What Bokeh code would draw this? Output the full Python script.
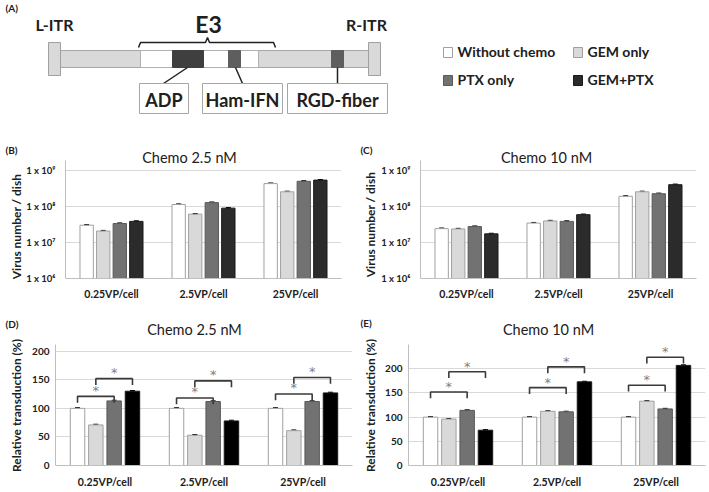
import math
from bokeh.plotting import figure
from bokeh.models import (Range1d, FixedTicker, ColumnDataSource, Whisker,
                          TeeHead, CustomJSTickFormatter)
from bokeh.layouts import column, row
from bokeh.embed import file_html
from bokeh.resources import INLINE
from bokeh.core.properties import value

# ---------------- data ----------------
categories = ["0.25VP/cell", "2.5VP/cell", "25VP/cell"]
series_names = ["Without chemo", "GEM only", "PTX only", "GEM+PTX"]

# (B) virus number / dish, chemo 2.5 nM
b_without = [3.05e7, 1.15e8, 4.4e8]
b_gem = [2.1e7, 6.2e7, 2.6e8]
b_ptx = [3.4e7, 1.3e8, 5.1e8]
b_both = [3.9e7, 9.1e7, 5.5e8]

# (C) virus number / dish, chemo 10 nM
c_without = [2.45e7, 3.5e7, 1.95e8]
c_gem = [2.4e7, 4.0e7, 2.6e8]
c_ptx = [2.8e7, 3.9e7, 2.3e8]
c_both = [1.75e7, 6.0e7, 4.1e8]

# relative error (fraction) used for the small error bars on B / C
bc_rel_err = 0.04

# (D) relative transduction (%), chemo 2.5 nM
d_without = [100, 100, 100]
d_gem = [71, 53, 61]
d_ptx = [113, 112, 112]
d_both = [130, 78, 127]

# (E) relative transduction (%), chemo 10 nM
e_without = [100, 100, 100]
e_gem = [96, 112, 133]
e_ptx = [114, 111, 117]
e_both = [73, 173, 207]

de_err = 1.2

# significance brackets: group, from-series, to-series, bracket height
d_br_group = [0, 0, 1, 1, 2, 2]
d_br_from = [0, 1, 0, 1, 0, 1]
d_br_to = [2, 3, 2, 3, 2, 3]
d_br_y = [121, 152, 118, 148, 125, 154]

e_br_group = [0, 0, 1, 1, 2, 2]
e_br_from = [0, 1, 0, 1, 0, 1]
e_br_to = [2, 3, 2, 3, 2, 3]
e_br_y = [152, 194, 161, 204, 166, 224]

log_ticks = [1e6, 1e7, 1e8, 1e9]
pct_ticks = [0, 50, 100, 150, 200]

# panel titles / labels
panel_tags = ["(B)", "(C)", "(D)", "(E)"]
panel_titles = ["Chemo 2.5 nM", "Chemo 10 nM", "Chemo 2.5 nM", "Chemo 10 nM"]
y_titles = ["Virus number / dish", "Virus number / dish",
            "Relative transduction (%)", "Relative transduction (%)"]

# schematic (panel A) geometry, in diagram units
itr_x = [[48, 60], [368, 380]]
itr_names = ["L-ITR", "R-ITR"]
itr_name_x = [54, 366]
backbone_x = [60, 368]
e3_x = [140, 258]
insert_names = ["ADP", "Ham-IFN", "RGD-fiber"]
insert_left = [172, 228, 331]
insert_right = [203, 240, 343]
insert_colors = ["#3f3f3f", "#5e5e5e", "#5e5e5e"]
conn_x0 = [187, 235, 337]
conn_x1 = [163, 242, 337]
box_left = [139, 202, 287]
box_right = [188, 282, 387]
brace_x = [138, 140, 205, 207, 209, 273, 275]
brace_y = [47, 42, 42, 37, 42, 42, 47]

# ---------------- style ----------------
FONT = "Lato"
TXT = "#202020"
fills_bc = ["#ffffff", "#d9d9d9", "#727272", "#2b2b2b"]
fills_de = ["#ffffff", "#d9d9d9", "#727272", "#000000"]
lines = ["#a0a0a0", "#a0a0a0", "#5a5a5a", "#1a1a1a"]


def style_axes(p, yticks):
    p.outline_line_color = None
    p.xgrid.visible = False
    p.ygrid.grid_line_color = "#d9d9d9"
    p.ygrid.grid_line_width = 1
    p.ygrid.ticker = FixedTicker(ticks=yticks)
    for ax in (p.xaxis[0], p.yaxis[0]):
        ax.axis_line_color = "#bfbfbf"
        ax.major_tick_line_color = None
        ax.minor_tick_line_color = None
        ax.major_tick_out = 0
        ax.minor_tick_out = 0
        ax.major_tick_in = 0
        ax.minor_tick_in = 0
        ax.major_label_text_font = FONT
        ax.major_label_text_font_style = "bold"
        ax.major_label_text_color = TXT
    p.xaxis.ticker = FixedTicker(ticks=list(range(len(categories))))
    p.xaxis.major_label_overrides = {i: c for i, c in enumerate(categories)}
    p.xaxis.major_label_text_font_size = "10.5px"
    p.yaxis.ticker = FixedTicker(ticks=yticks)


def draw_bars(p, vals, fills, step, width, base, errs_lo, errs_hi):
    for k, v in enumerate(vals):
        xs = [g + (k - 1.5) * step for g in range(len(categories))]
        p.vbar(x=xs, top=v, bottom=base, width=width, fill_color=fills[k],
               line_color=lines[k], line_width=1)
        src = ColumnDataSource(dict(x=xs, lo=errs_lo[k], hi=errs_hi[k]))
        p.add_layout(Whisker(source=src, base="x", lower="lo", upper="hi",
                             line_color="black", line_width=1,
                             upper_head=TeeHead(size=5, line_color="black", line_width=1),
                             lower_head=TeeHead(size=5, line_color="black", line_width=1)))


def log_panel(vals, fig_w, mb_left, mb_right):
    fh = 118
    decade = 35.9
    p = figure(width=fig_w, height=160, y_axis_type="log",
               x_range=Range1d(-0.5, 2.5),
               y_range=Range1d(1e6, 10 ** (6 + fh / decade)),
               output_backend="svg", toolbar_location=None,
               min_border_left=mb_left, min_border_right=mb_right,
               min_border_top=15, min_border_bottom=27)
    style_axes(p, log_ticks)
    p.yaxis.formatter = CustomJSTickFormatter(code="""
        const sup = {6: '\u2076', 7: '\u2077', 8: '\u2078', 9: '\u2079'};
        const e = Math.round(Math.log10(tick));
        return '1 x 10' + sup[e];
    """)
    p.yaxis.major_label_text_font_size = "9.5px"
    p.yaxis.major_label_standoff = 10
    p.xaxis.major_label_standoff = 9
    lo = [[x * (1 - bc_rel_err) for x in v] for v in vals]
    hi = [[x * (1 + bc_rel_err) for x in v] for v in vals]
    draw_bars(p, vals, fills_bc, 0.18, 0.145, 1e6, lo, hi)
    return p


def pct_panel(vals, brg, brf, brt, bry, leg, fig_w, mb_left, mb_right, mb_top):
    scale = 0.5715
    fh = 187 - mb_top - 27
    p = figure(width=fig_w, height=187,
               x_range=Range1d(-0.5, 2.5), y_range=Range1d(0, fh / scale),
               output_backend="svg", toolbar_location=None,
               min_border_left=mb_left, min_border_right=mb_right,
               min_border_top=mb_top, min_border_bottom=27)
    style_axes(p, pct_ticks)
    p.yaxis.major_label_text_font_size = "10px"
    p.yaxis.major_label_standoff = 6
    p.xaxis.major_label_standoff = 10
    step = 0.185
    lo = [[x - de_err for x in v] for v in vals]
    hi = [[x + de_err for x in v] for v in vals]
    draw_bars(p, vals, fills_de, step, 0.146, 0, lo, hi)
    # significance brackets
    xa = [g + (a - 1.5) * step for g, a in zip(brg, brf)]
    xb = [g + (b - 1.5) * step for g, b in zip(brg, brt)]
    mx = [[a, a, b, b] for a, b in zip(xa, xb)]
    my = [[y - leg, y, y, y - leg] for y in bry]
    p.multi_line(xs=mx, ys=my, line_color="#3a3a3a", line_width=1.6)
    p.text(x=[(a + b) / 2 for a, b in zip(xa, xb)], y=[y + 11 for y in bry],
           text=["*"] * len(bry), text_font=value("DejaVu Sans"),
           text_font_size=value("13px"),
           text_color="#7f7f7f", text_align="center", text_baseline="middle")
    return p


# ---------------- panel A + legend ----------------
pa = figure(width=709, height=145, x_range=Range1d(0, 709), y_range=Range1d(145, 0),
            output_backend="svg", toolbar_location=None, min_border=0,
            x_axis_location=None, y_axis_location=None)
pa.grid.visible = False
pa.outline_line_color = None

pa.quad(left=[backbone_x[0]], right=[backbone_x[1]], top=[50], bottom=[67],
        fill_color="#d9d9d9", line_color="#a6a6a6")
pa.quad(left=[e3_x[0]], right=[e3_x[1]], top=[50], bottom=[67],
        fill_color="#ffffff", line_color="#b0b0b0")
pa.quad(left=insert_left, right=insert_right, top=[50] * 3, bottom=[67] * 3,
        fill_color=insert_colors, line_color=insert_colors)
pa.quad(left=[a for a, b in itr_x], right=[b for a, b in itr_x], top=[42, 42],
        bottom=[75, 75], fill_color="#d9d9d9", line_color="#a0a0a0")
pa.segment(x0=conn_x0, y0=[67] * 3, x1=conn_x1, y1=[83] * 3, line_color="#202020",
           line_width=1.5)
pa.quad(left=box_left, right=box_right, top=[83] * 3, bottom=[113] * 3,
        fill_color="#ffffff", line_color="#a6a6a6")
pa.line(x=brace_x, y=brace_y, line_color="#202020", line_width=1.5)
pa.text(x=[(a + b) / 2 for a, b in zip(box_left, box_right)], y=[99] * 3,
        text=insert_names, text_font=value(FONT), text_font_size=value("18px"),
        text_font_style="bold", text_color=TXT, text_align="center",
        text_baseline="middle")
pa.text(x=itr_name_x, y=[24, 24], text=itr_names, text_font=value(FONT),
        text_font_size=value("16px"), text_font_style="bold", text_color=TXT,
        text_align="center", text_baseline="middle")
pa.text(x=[208], y=[23], text=["E3"], text_font=value(FONT),
        text_font_size=value("23px"), text_font_style="bold", text_color=TXT,
        text_align="center", text_baseline="middle")
pa.text(x=[5], y=[7], text=["(A)"], text_font=value(FONT),
        text_font_size=value("10px"), text_font_style="bold", text_color=TXT,
        text_align="left", text_baseline="middle")

# legend
leg_x = [443, 573, 443, 573]
leg_y = [52, 52, 80, 80]
pa.quad(left=leg_x, right=[x + 9 for x in leg_x], top=[y - 5 for y in leg_y],
        bottom=[y + 5 for y in leg_y], fill_color=fills_bc, line_color=lines)
pa.text(x=[x + 14 for x in leg_x], y=[y - 1 for y in leg_y], text=series_names,
        text_font=value(FONT), text_font_size=value("14px"), text_font_style="bold",
        text_color=TXT, text_align="left", text_baseline="middle")

# ---------------- panels B-E ----------------
pb = log_panel([b_without, b_gem, b_ptx, b_both], 355, 65, 14)
pc = log_panel([c_without, c_gem, c_ptx, c_both], 354, 65, 13)
pd = pct_panel([d_without, d_gem, d_ptx, d_both], d_br_group, d_br_from, d_br_to,
               d_br_y, 11, 355, 55, 3, 39)
pe = pct_panel([e_without, e_gem, e_ptx, e_both], e_br_group, e_br_from, e_br_to,
               e_br_y, 13, 354, 53, 4, 17)

# ---------------- transparent overlay for panel tags / titles ----------------
ov = figure(width=709, height=492, x_range=Range1d(0, 709), y_range=Range1d(492, 0),
            output_backend="svg", toolbar_location=None, min_border=0,
            x_axis_location=None, y_axis_location=None,
            background_fill_color=None, border_fill_color=None)
ov.grid.visible = False
ov.outline_line_color = None
ov.margin = (-492, 0, 0, 0)

tag_x = [5, 360, 5, 360]
tag_y = [149, 149, 323, 322]
title_x = [189, 546, 194, 548]
title_y = [157, 157, 329, 329]
ylab_x = [16, 370, 16, 370]
ylab_y = [226, 224, 405, 405]

ov.text(x=tag_x, y=tag_y, text=panel_tags, text_font=value(FONT),
        text_font_size=value("10px"), text_font_style="bold", text_color=TXT,
        text_align="left", text_baseline="middle")
ov.text(x=title_x, y=title_y, text=panel_titles, text_font=value(FONT),
        text_font_size=value("14.5px"), text_color=TXT,
        text_align="center", text_baseline="middle")
ov.text(x=ylab_x[:2], y=ylab_y[:2], text=y_titles[:2], text_font=value(FONT),
        text_font_size=value("12px"), text_font_style="bold", text_color=TXT,
        text_align="center", text_baseline="middle", angle=math.pi / 2)
ov.text(x=ylab_x[2:], y=ylab_y[2:], text=y_titles[2:], text_font=value(FONT),
        text_font_size=value("12px"), text_font_style="bold", text_color=TXT,
        text_align="center", text_baseline="middle", angle=math.pi / 2)

layout = column(pa, row(pb, pc), row(pd, pe), ov)

with open("out.html", "w", encoding="utf-8") as f:
    f.write(file_html(layout, INLINE))
